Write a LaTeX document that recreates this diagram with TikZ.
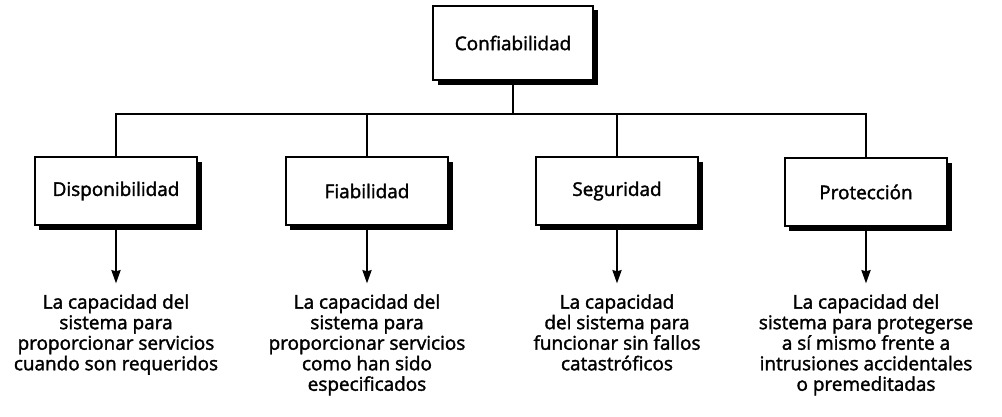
\documentclass[tikz,border=0pt]{standalone}
\usepackage{fontspec}
\setmainfont{Open Sans}[FakeBold=1.6]
\newfontfamily\semib{Open Sans}[FakeBold=1.8]
\usetikzlibrary{shadows,arrows.meta}
\begin{document}
\begin{tikzpicture}[x=0.75pt,y=-0.75pt,
  txt/.style={font=\fontsize{14.2}{15.4}\selectfont\semib},
  box/.style={txt, draw, line width=1.3pt, fill=white, minimum width=122pt, minimum height=51pt, inner sep=0pt,
    drop shadow={shadow xshift=3.5pt, shadow yshift=-3.5pt, opacity=1, fill=black}},
  desc/.style={txt, anchor=north, align=center, inner sep=0pt},
  link/.style={line width=1pt},
  arr/.style={link, -{Stealth[length=10pt,width=7pt,inset=1pt]}, shorten >=8pt}]
\useasboundingbox (0,0) rectangle (1002,417);
\node[box, minimum width=120pt, minimum height=56pt] (conf) at (513,43) {Confiabilidad};
\node[box] (dsp) at (116,191) {Disponibilidad};
\node[box] (fia) at (367,191) {Fiabilidad};
\node[box] (seg) at (617,191) {Seguridad};
\node[box] (pro) at (866,192) {Protección};
\coordinate (j) at (513,114);
\draw[link] (conf.south) -- (j);
\draw[link] (dsp.north) -- (dsp.north |- j) -- (pro.north |- j) -- (pro.north);
\draw[link] (fia.north) -- (fia.north |- j);
\draw[link] (seg.north) -- (seg.north |- j);
\node[desc] (d1) at (116,294) {La capacidad del\\sistema para\\proporcionar servicios\\cuando son requeridos};
\node[desc] (d2) at (367,294) {La capacidad del\\sistema para\\proporcionar servicios\\como han sido\\especificados};
\node[desc] (d3) at (617,294) {La capacidad\\del sistema para\\funcionar sin fallos\\catastróficos};
\node[desc] (d4) at (866,294) {La capacidad del\\sistema para protegerse\\a sí mismo frente a\\intrusiones accidentales\\o premeditadas};
\draw[arr] (dsp.south) -- (d1.north);
\draw[arr] (fia.south) -- (d2.north);
\draw[arr] (seg.south) -- (d3.north);
\draw[arr] (pro.south) -- (d4.north);
\end{tikzpicture}
\end{document}
